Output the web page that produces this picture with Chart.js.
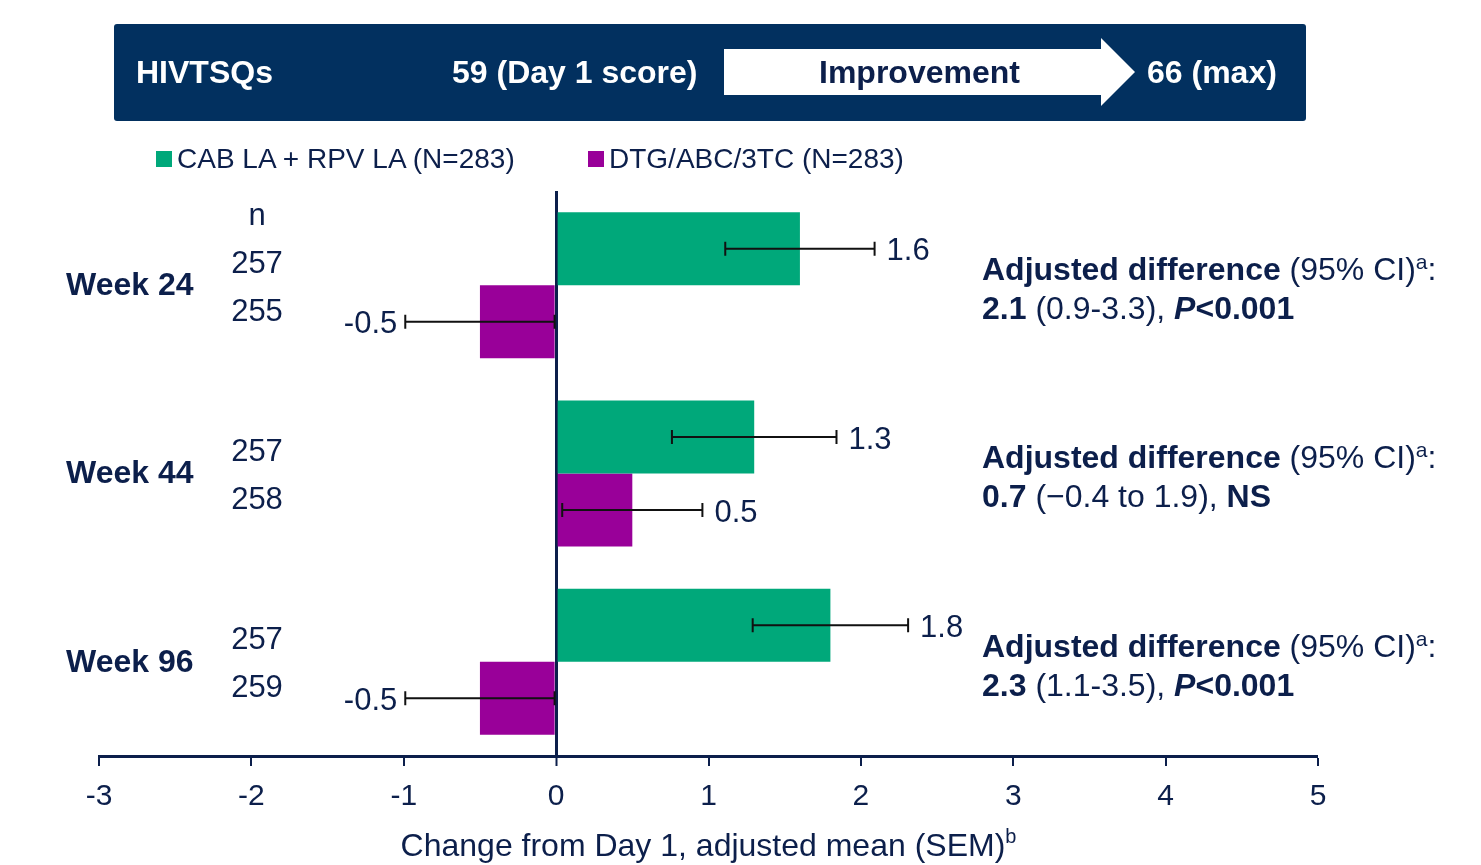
<!DOCTYPE html>
<html>
<head>
<meta charset="utf-8">
<script src="https://cdn.jsdelivr.net/npm/chart.js@4.4.1/dist/chart.umd.min.js"></script>
<style>
  body { margin: 0; background: #fff; font-family: "Liberation Sans", Arial, sans-serif; }
  #wrap { position: relative; width: 1481px; height: 865px; overflow: hidden; }
  #chart { position: absolute; left: 0; top: 0; }
  #header { position: absolute; left: 114px; top: 24px; width: 1192px; height: 97px; background: #02305f; border-radius: 3px; }
  #arrow { position: absolute; left: 0; top: 0; }
  .htext { position: absolute; top: 24px; height: 97px; line-height: 97px; font-size: 32px; font-weight: bold; color: #fff; white-space: nowrap; }
  .legend-box { position: absolute; top: 151px; width: 16px; height: 16px; }
  .legend-text { position: absolute; top: 142px; height: 34px; line-height: 34px; font-size: 28px; color: #0c1f4b; white-space: nowrap; }
</style>
</head>
<body>
<div id="wrap">
  <canvas id="chart" width="1481" height="865"></canvas>
  <div id="header"></div>
  <svg id="arrow" width="1481" height="130">
    <polygon points="724,49 1101,49 1101,38 1135,72 1101,106 1101,95 724,95" fill="#fff"/>
  </svg>
  <div class="htext" style="left:136px">HIVTSQs</div>
  <div class="htext" style="left:452px">59 (Day 1 score)</div>
  <div class="htext" style="left:819px;color:#0c1f4b">Improvement</div>
  <div class="htext" style="left:1147px">66 (max)</div>
  <div id="legend"></div>
</div>
<script>
// data
var weeks = ["Week 24", "Week 44", "Week 96"];
var seriesNames = ["CAB LA + RPV LA (N=283)", "DTG/ABC/3TC (N=283)"];
var cabMean = [1.6, 1.3, 1.8];
var cabSem = [0.49, 0.54, 0.51];
var dtgMean = [-0.5, 0.5, -0.5];
var dtgSem = [0.49, 0.46, 0.49];
var cabN = [257, 257, 257];
var dtgN = [255, 258, 259];
var adjDiff = ["2.1", "0.7", "2.3"];
var adjCi = [" (0.9-3.3), ", " (\u22120.4 to 1.9), ", " (1.1-3.5), "];
var adjP = ["P<0.001", "NS", "P<0.001"];
var xMin = -3, xMax = 5;

var navy = "#0c1f4b";
var green = "#00a87a";
var purple = "#990099";
var FONT = '"Liberation Sans", Arial, sans-serif';

function drawRuns(ctx, runs, x, y) {
    runs.forEach(function (r) {
        ctx.font = r.f;
        ctx.fillText(r.t, x, y + (r.dy || 0));
        x += ctx.measureText(r.t).width;
    });
}

var errorBars = {
    id: "errorBars",
    afterDatasetsDraw: function (chart) {
        var ctx = chart.ctx, xs = chart.scales.x;
        var sems = [cabSem, dtgSem];
        ctx.save();
        chart.data.datasets.forEach(function (ds, di) {
            chart.getDatasetMeta(di).data.forEach(function (bar, i) {
                var v = ds.data[i], e = sems[di][i];
                var x1 = xs.getPixelForValue(v - e), x2 = xs.getPixelForValue(v + e), y = bar.y;
                ctx.strokeStyle = "#111";
                ctx.lineWidth = 2;
                ctx.beginPath();
                ctx.moveTo(x1, y); ctx.lineTo(x2, y);
                ctx.moveTo(x1, y - 7); ctx.lineTo(x1, y + 7);
                ctx.moveTo(x2, y - 7); ctx.lineTo(x2, y + 7);
                ctx.stroke();
                ctx.fillStyle = navy;
                ctx.font = "31px " + FONT;
                ctx.textBaseline = "middle";
                if (v >= 0) {
                    ctx.textAlign = "left";
                    ctx.fillText(v.toFixed(1), x2 + 12, y + 3);
                } else {
                    ctx.textAlign = "right";
                    ctx.fillText(v.toFixed(1), x1 - 8, y + 3);
                }
            });
        });
        ctx.restore();
    }
};

var sideText = {
    id: "sideText",
    afterDraw: function (chart) {
        var ctx = chart.ctx, ys = chart.scales.y, area = chart.chartArea;
        ctx.save();
        ctx.fillStyle = navy;
        ctx.textBaseline = "middle";
        // n column
        ctx.textAlign = "center";
        ctx.font = "31px " + FONT;
        ctx.fillText("n", 257, area.top + 25);
        weeks.forEach(function (w, i) {
            var cy = ys.getPixelForValue(i);
            ctx.textAlign = "center";
            ctx.font = "31px " + FONT;
            ctx.fillText(String(cabN[i]), 257, cy - 21);
            ctx.fillText(String(dtgN[i]), 257, cy + 27);
            ctx.textAlign = "left";
            ctx.font = "bold 32px " + FONT;
            ctx.fillText(w, 66, cy + 1);

            // adjusted difference
            var b = "bold 32px " + FONT, r = "32px " + FONT;
            drawRuns(ctx, [
                { t: "Adjusted difference", f: b },
                { t: " (95% CI)", f: r },
                { t: "a", f: "21px " + FONT, dy: -8 },
                { t: ":", f: r }
            ], 982, cy - 14);
            var line2 = [{ t: adjDiff[i], f: b }, { t: adjCi[i], f: r }];
            if (adjP[i].charAt(0) === "P") {
                line2.push({ t: "P", f: "italic bold 32px " + FONT });
                line2.push({ t: adjP[i].slice(1), f: b });
            } else {
                line2.push({ t: adjP[i], f: b });
            }
            drawRuns(ctx, line2, 982, cy + 25);
        });
        // axis title with superscript
        var title = "Change from Day 1, adjusted mean (SEM)";
        ctx.font = "32px " + FONT;
        var tw = ctx.measureText(title).width;
        ctx.font = "20px " + FONT;
        var sw = ctx.measureText("b").width;
        var tx = (area.left + area.right) / 2 - (tw + sw) / 2;
        ctx.textAlign = "left";
        drawRuns(ctx, [
            { t: title, f: "32px " + FONT },
            { t: "b", f: "20px " + FONT, dy: -10 }
        ], tx, 847);
        ctx.restore();
    }
};

var chart = new Chart(document.getElementById("chart").getContext("2d"), {
    type: "bar",
    data: {
        labels: weeks,
        datasets: [{
            label: seriesNames[0],
            data: cabMean,
            backgroundColor: green,
            borderWidth: 0,
            categoryPercentage: 0.775,
            barPercentage: 1.0
        }, {
            label: seriesNames[1],
            data: dtgMean,
            backgroundColor: purple,
            borderWidth: 0,
            categoryPercentage: 0.775,
            barPercentage: 1.0
        }]
    },
    options: {
        indexAxis: "y",
        responsive: false,
        animation: false,
        layout: { padding: { left: 99, right: 163, top: 191, bottom: 0 } },
        plugins: { legend: { display: false }, tooltip: { enabled: false } },
        scales: {
            x: {
                type: "linear",
                min: xMin,
                max: xMax,
                z: 1,
                ticks: { stepSize: 1, color: navy, padding: 13, font: { size: 30, family: FONT } },
                grid: {
                    drawOnChartArea: true,
                    color: function (c) { return c.tick && c.tick.value === 0 ? navy : "rgba(0,0,0,0)"; },
                    lineWidth: function (c) { return c.tick && c.tick.value === 0 ? 3 : 0; },
                    tickColor: navy,
                    tickWidth: 2,
                    tickLength: 10
                },
                border: { display: true, color: navy, width: 3 },
                afterFit: function (s) { s.height = 109; }
            },
            y: { display: false, grid: { display: false } }
        }
    },
    plugins: [errorBars, sideText]
});

// legend from datasets
var legendX = [156, 588];
var legend = document.getElementById("legend");
chart.data.datasets.forEach(function (ds, i) {
    var box = document.createElement("div");
    box.className = "legend-box";
    box.style.left = legendX[i] + "px";
    box.style.background = ds.backgroundColor;
    var txt = document.createElement("div");
    txt.className = "legend-text";
    txt.style.left = (legendX[i] + 21) + "px";
    txt.textContent = ds.label;
    legend.appendChild(box);
    legend.appendChild(txt);
});
</script>
</body>
</html>
